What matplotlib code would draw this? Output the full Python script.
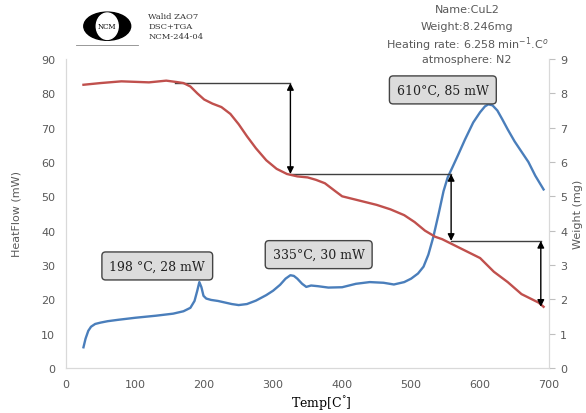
import numpy as np
import matplotlib
matplotlib.use('Agg')
import matplotlib.pyplot as plt
from matplotlib.patches import Ellipse

# DSC curve (heat flow, mW)
tempHF = [25, 28, 32, 36, 42, 50, 60, 75, 100, 130, 155, 170, 180, 186, 190, 193, 196, 199, 203, 210,
          220, 240, 250, 262, 275, 290, 300, 310, 318, 325, 330, 335, 342, 348, 355, 365, 380, 400,
          420, 440, 460, 475, 490, 500, 510, 518, 525, 532, 540, 547, 553, 560, 568, 578, 590, 600,
          607, 612, 618, 625, 632, 640, 650, 660, 670, 680, 692]
heatFlow = [6, 8.5, 10.8, 12, 12.8, 13.2, 13.6, 14, 14.6, 15.2, 15.8, 16.5, 17.5, 19.5, 22.5, 25, 23.5,
            21, 20.2, 19.8, 19.5, 18.6, 18.3, 18.6, 19.6, 21.2, 22.5, 24.2, 26, 27, 26.8, 26, 24.5,
            23.6, 24, 23.8, 23.4, 23.5, 24.5, 25, 24.8, 24.3, 25, 26, 27.5, 29.5, 33, 38, 45, 51.5,
            55.5, 58.5, 62, 66.5, 71.5, 74.5, 76.2, 76.8, 76.5, 75, 72.5, 69.5, 66, 63, 60, 56, 52]

# TGA curve (weight, mg)
tempW = [25, 50, 80, 120, 145, 160, 170, 180, 190, 200, 212, 225, 238, 250, 262, 275, 290, 305, 320,
         335, 350, 362, 375, 390, 400, 420, 450, 470, 490, 505, 520, 535, 545, 560, 580, 600, 620,
         640, 660, 675, 685, 692]
weight = [8.25, 8.3, 8.35, 8.32, 8.37, 8.33, 8.3, 8.2, 8.0, 7.82, 7.7, 7.6, 7.4, 7.1, 6.75, 6.4, 6.05,
          5.8, 5.65, 5.58, 5.55, 5.48, 5.38, 5.15, 5.0, 4.9, 4.75, 4.62, 4.45, 4.25, 4.0, 3.82, 3.75,
          3.6, 3.4, 3.2, 2.8, 2.5, 2.15, 2.0, 1.9, 1.78]

# weight-loss steps (temperature of arrow, start weight, end weight)
stepStartT = [158, 325, 558]
stepT = [325, 558, 688]
stepFrom = [8.3, 5.65, 3.7]
stepTo = [5.65, 3.7, 1.78]

# peak labels
peakText = ['198 \u00b0C, 28 mW', '335\u00b0C, 30 mW', '610\u00b0C, 85 mW']
peakX = [132, 366, 546]
peakY = [29.7, 33, 81]

grey = '#595959'
blue = '#4a7ebb'
red = '#c0504d'

fig = plt.figure(figsize=(5.86, 4.14), dpi=100)
ax = fig.add_axes([0.113, 0.109, 0.824, 0.746])
ax2 = ax.twinx()

ax.plot(tempHF, heatFlow, color=blue, lw=1.7, zorder=3)
ax2.plot(tempW, weight, color=red, lw=1.7, zorder=3)

# step arrows on the weight curve
for i in range(len(stepT)):
    ax2.plot([stepStartT[i], stepT[i]], [stepFrom[i], stepFrom[i]], color='#404040', lw=1)
    ax2.annotate('', xy=(stepT[i], stepTo[i]), xytext=(stepT[i], stepFrom[i]),
                 arrowprops=dict(arrowstyle='<|-|>', color='black', lw=1,
                                 mutation_scale=10, shrinkA=0, shrinkB=0))

for t, x, y in zip(peakText, peakX, peakY):
    ax.text(x, y, t, ha='center', va='center', fontsize=9, family='DejaVu Serif',
            color='#222222', zorder=5,
            bbox=dict(boxstyle='round,pad=0.6,rounding_size=0.3', fc='#dcdcdc', ec='#444444', lw=1))

ax.set_xlim(0, 700)
ax.set_ylim(0, 90)
ax2.set_ylim(0, 9)
ax.set_xticks(np.arange(0, 701, 100))
ax.set_yticks(np.arange(0, 91, 10))
ax2.set_yticks(np.arange(0, 10, 1))

for a in (ax, ax2):
    for s in a.spines.values():
        s.set_color('#d9d9d9')
    a.spines['top'].set_visible(False)
ax.tick_params(axis='both', colors=grey, labelsize=8, length=0, pad=8)
ax2.tick_params(axis='y', colors='#bfbfbf', labelcolor=grey, labelsize=8, length=4, pad=4)

ax.set_ylabel('HeatFlow (mW)', color=grey, fontsize=8, labelpad=14)
ax2.set_ylabel('Weight (mg)', color=grey, fontsize=8, labelpad=4)
ax.set_xlabel('Temp[C$^{\\degree}$]', family='DejaVu Serif', fontsize=9, color='black', labelpad=3)
ax.xaxis.set_label_coords(0.528, -0.085)

# header info
fig.text(0.797, 0.975, 'Name:CuL2', ha='center', va='center', fontsize=8, color=grey)
fig.text(0.797, 0.935, 'Weight:8.246mg', ha='center', va='center', fontsize=8, color=grey)
fig.text(0.797, 0.893, 'Heating rate: 6.258 min$^{-1}$.C$^{o}$', ha='center', va='center', fontsize=8, color=grey)
fig.text(0.797, 0.855, 'atmosphere: N2', ha='center', va='center', fontsize=8, color=grey)
fig.text(0.253, 0.935, 'Walid ZAO7\nDSC+TGA\nNCM-244-04', ha='left', va='center', fontsize=6,
         family='DejaVu Serif', color='#333333', linespacing=1.3)

# logo
lg = fig.add_axes([0.128, 0.885, 0.11, 0.085])
lg.set_xlim(0, 2.2)
lg.set_ylim(0, 1)
lg.axis('off')
lg.add_patch(Ellipse((1.1, 0.58), 1.6, 0.8, color='black'))
lg.add_patch(Ellipse((1.1, 0.58), 0.75, 0.75, fc='white', ec='white'))
lg.text(1.1, 0.58, 'NCM', ha='center', va='center', fontsize=5, family='DejaVu Serif')
lg.plot([0.05, 2.15], [0.05, 0.05], color='#888888', lw=0.6)

fig.savefig('out.png', dpi=100)
